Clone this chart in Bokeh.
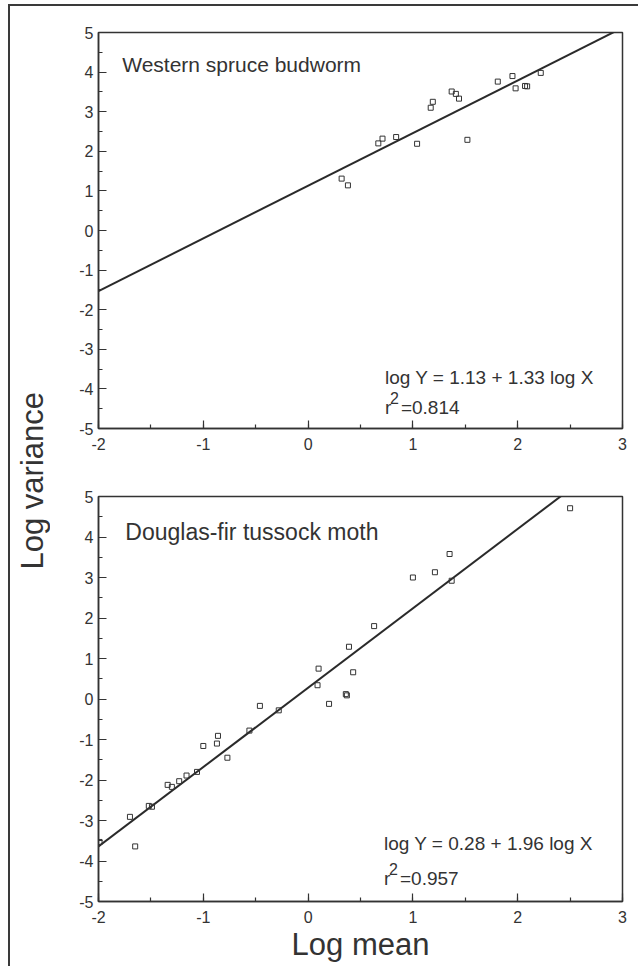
import math
from bokeh.plotting import figure
from bokeh.layouts import row, column
from bokeh.models import Range1d, SingleIntervalTicker, Label, PrintfTickFormatter
from bokeh.embed import file_html
from bokeh.resources import INLINE

# ---------------- data ----------------
# Western spruce budworm
wsb_log_mean = [0.32, 0.38, 0.67, 0.71, 0.84, 1.04, 1.17, 1.19, 1.37, 1.41,
                1.44, 1.52, 1.81, 1.95, 1.98, 2.07, 2.09, 2.22]
wsb_log_var = [1.31, 1.14, 2.20, 2.32, 2.36, 2.19, 3.10, 3.25, 3.51, 3.45,
               3.33, 2.29, 3.76, 3.90, 3.59, 3.65, 3.64, 3.98]
wsb_intercept = 1.13
wsb_slope = 1.33
wsb_r2 = "0.814"

# Douglas-fir tussock moth
dft_log_mean = [-1.99, -1.70, -1.65, -1.52, -1.49, -1.34, -1.30, -1.23, -1.16, -1.06,
                -1.00, -0.87, -0.86, -0.77, -0.56, -0.46, -0.28, 0.09, 0.10, 0.20,
                0.36, 0.37, 0.39, 0.43, 0.63, 1.00, 1.21, 1.35, 1.37, 2.50]
dft_log_var = [-3.53, -2.91, -3.64, -2.64, -2.66, -2.12, -2.17, -2.03, -1.89, -1.80,
               -1.16, -1.10, -0.91, -1.45, -0.78, -0.17, -0.28, 0.34, 0.75, -0.12,
               0.12, 0.09, 1.29, 0.66, 1.80, 3.00, 3.13, 3.58, 2.92, 4.71]
dft_intercept = 0.28
dft_slope = 1.96
dft_r2 = "0.957"

x_limits = (-2, 3)
y_limits = (-5, 5)

titles = ["Western spruce budworm", "Douglas-fir tussock moth"]
x_label = "Log mean"
y_label = "Log variance"

# ---------------- style ----------------
INK = "#333333"
LINE = "#2a2a2a"
FONT = "Liberation Sans"


def make_panel(xs, ys, a, b, r2, title, width, height, mb, title_size,
               title_pos, eq_pos, r2_pos, show_xlabel):
    p = figure(width=width, height=height, output_backend="svg",
               toolbar_location=None,
               x_range=Range1d(*x_limits), y_range=Range1d(*y_limits),
               min_border_left=mb[0], min_border_right=mb[1],
               min_border_top=mb[2], min_border_bottom=mb[3])
    p.grid.visible = False
    p.background_fill_color = "white"
    p.border_fill_color = "white"
    p.outline_line_color = INK
    p.outline_line_width = 1.5

    for ax in (p.xaxis[0], p.yaxis[0]):
        ax.ticker = SingleIntervalTicker(interval=1, num_minor_ticks=2)
        ax.formatter = PrintfTickFormatter(format="%d")
        ax.axis_line_color = INK
        ax.axis_line_width = 1.5
        ax.major_tick_in = 8
        ax.major_tick_out = 0
        ax.minor_tick_in = 4
        ax.minor_tick_out = 0
        ax.major_tick_line_color = INK
        ax.minor_tick_line_color = INK
        ax.major_tick_line_width = 1.2
        ax.minor_tick_line_width = 1.2
        ax.major_label_text_font = FONT
        ax.major_label_text_font_size = "16px"
        ax.major_label_text_color = INK
    p.yaxis.major_label_standoff = 5
    p.xaxis.major_label_standoff = 9
    if show_xlabel:
        p.xaxis.axis_label = x_label
        p.xaxis.axis_label_text_font = FONT
        p.xaxis.axis_label_text_font_size = "31px"
        p.xaxis.axis_label_text_font_style = "normal"
        p.xaxis.axis_label_text_color = INK
        p.xaxis.axis_label_standoff = 1

    # regression line over the whole x range
    lx = list(x_limits)
    ly = [a + b * v for v in lx]
    p.line(lx, ly, line_color=LINE, line_width=2)

    p.scatter(xs, ys, marker="square", size=5, fill_color=None,
              line_color=INK, line_width=1)

    p.add_layout(Label(x=title_pos[0], y=title_pos[1], text=title,
                       text_font=FONT, text_font_size=title_size,
                       text_color=INK, text_baseline="alphabetic"))
    eq = f"log Y = {a:.2f} + {b:.2f} log X"
    p.add_layout(Label(x=eq_pos[0], y=eq_pos[1], text=eq,
                       text_font=FONT, text_font_size="19px",
                       text_color=INK, text_baseline="alphabetic"))
    p.add_layout(Label(x=r2_pos[0], y=r2_pos[1], text="r",
                       text_font=FONT, text_font_size="19px",
                       text_color=INK, text_baseline="alphabetic"))
    p.add_layout(Label(x=r2_pos[0], y=r2_pos[1], text="2", x_offset=5, y_offset=9,
                       text_font=FONT, text_font_size="16px",
                       text_color=INK, text_baseline="alphabetic"))
    p.add_layout(Label(x=r2_pos[0], y=r2_pos[1], text="=" + r2, x_offset=16,
                       text_font=FONT, text_font_size="19px",
                       text_color=INK, text_baseline="alphabetic"))
    return p


p1 = make_panel(wsb_log_mean, wsb_log_var, wsb_intercept, wsb_slope, wsb_r2,
                titles[0], 588, 456, (48, 15, 26, 34), "21px",
                (-1.774, 4.18), (0.733, -3.71), (0.733, -4.46), False)
p2 = make_panel(dft_log_mean, dft_log_var, dft_intercept, dft_slope, dft_r2,
                titles[1], 588, 504, (44, 16, 34, 65), "23px",
                (-1.744, 4.12), (0.724, -3.57), (0.724, -4.43), True)

# narrow left figure carrying the shared y-axis title
lf = figure(width=40, height=960, output_backend="svg", toolbar_location=None,
            x_range=Range1d(0, 1), y_range=Range1d(0, 1),
            min_border_left=0, min_border_right=0, min_border_top=0,
            min_border_bottom=0)
lf.axis.visible = False
lf.grid.visible = False
lf.outline_line_color = None
lf.background_fill_color = "white"
lf.border_fill_color = "white"
lf.add_layout(Label(x=0.555, y=0.506, text=y_label, angle=math.pi / 2,
                    text_align="center", text_baseline="middle",
                    text_font=FONT, text_font_size="31px", text_color=INK))

layout = row(lf, column(p1, p2),
             styles={"border-top": "2px solid #3a3a3a",
                     "border-left": "2px solid #3a3a3a",
                     "margin-left": "8px", "margin-top": "4px"})

open("out.html", "w").write(file_html(layout, INLINE))
